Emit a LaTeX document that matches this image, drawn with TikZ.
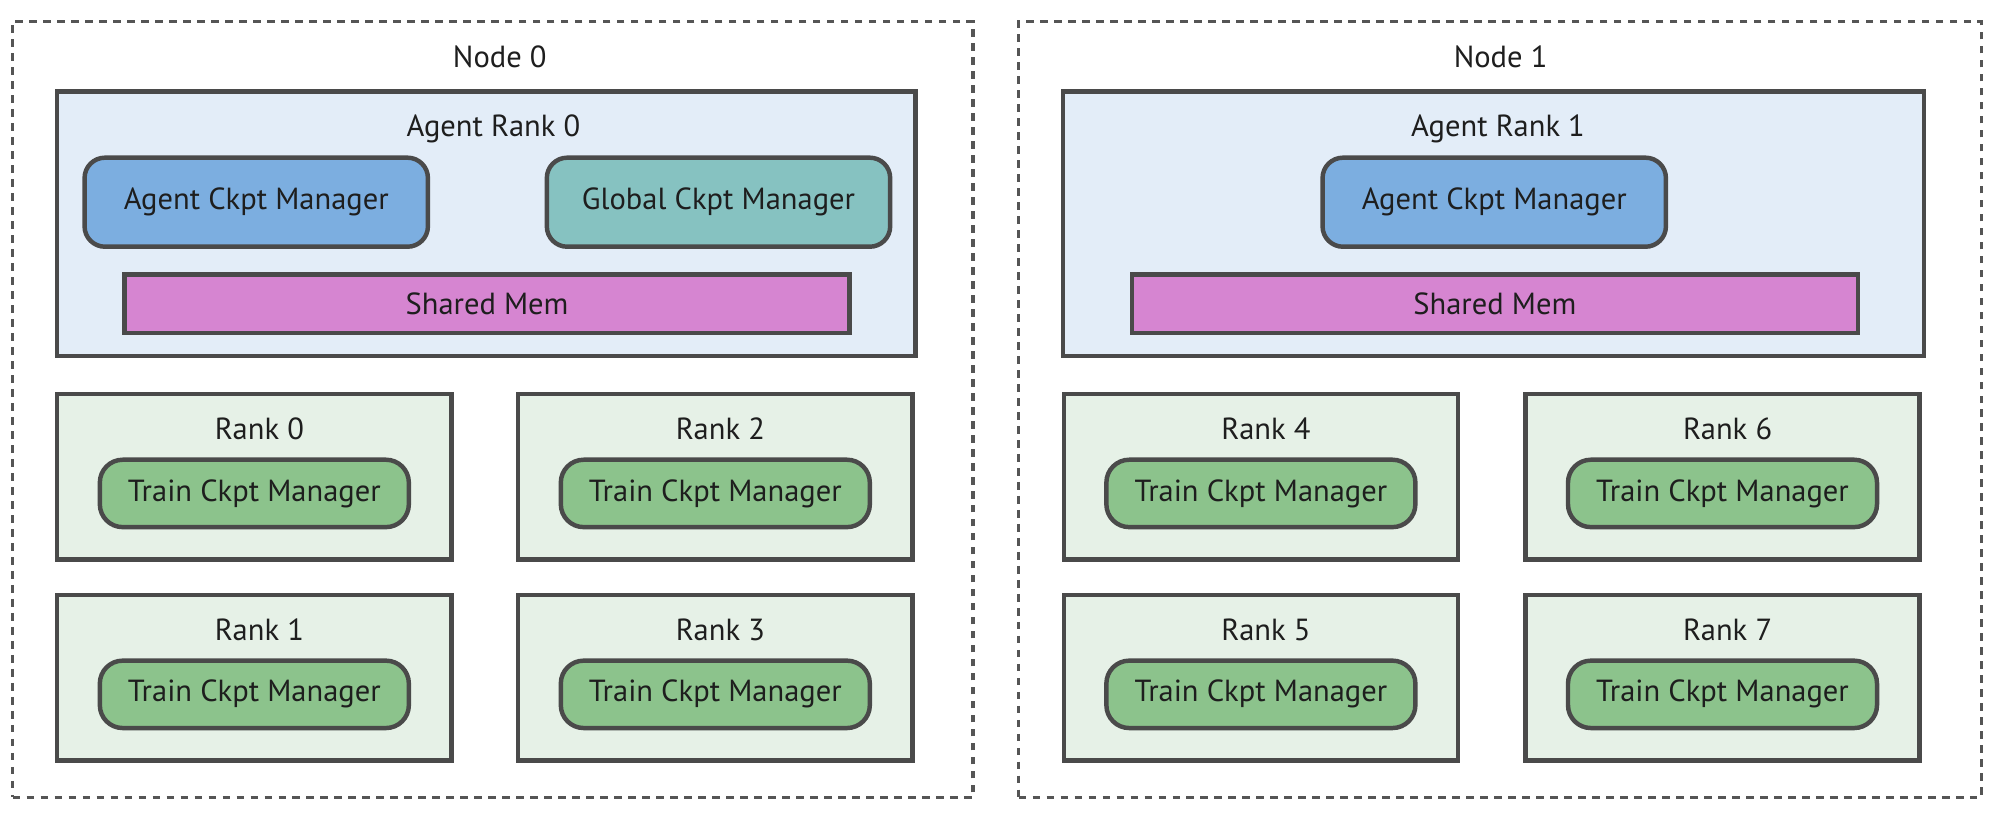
\documentclass[tikz,border=0pt]{standalone}
\usepackage{fontspec}
\setmainfont{PT Sans}
\definecolor{dashgray}{HTML}{555555}
\definecolor{strokegray}{HTML}{4A4A4A}
\definecolor{agentbg}{HTML}{E3EDF8}
\definecolor{agentblue}{HTML}{7CAEE0}
\definecolor{globalteal}{HTML}{86C2C1}
\definecolor{shmem}{HTML}{D685D1}
\definecolor{rankbg}{HTML}{E6F1E7}
\definecolor{traingreen}{HTML}{8CC38C}
\definecolor{txt}{HTML}{1E1E1E}
\tikzset{
  hostbox/.style={draw=dashgray, line width=2.8pt, dash pattern=on 6pt off 5pt, inner sep=0pt},
  agentbox/.style={draw=strokegray, fill=agentbg, line width=3.5pt, inner sep=0pt},
  rankbox/.style={draw=strokegray, fill=rankbg, line width=3.5pt, inner sep=0pt},
  mgrbox/.style={draw=strokegray, line width=3.5pt, rounded corners=16pt, inner sep=0pt,
    minimum width=270pt, minimum height=70pt, text=txt, font=\fontsize{24}{26}\selectfont},
  trainbox/.style={draw=strokegray, fill=traingreen, line width=3.5pt, rounded corners=18pt, inner sep=0pt,
    minimum width=243pt, minimum height=53pt, text=txt, font=\fontsize{24}{26}\selectfont},
  membox/.style={draw=strokegray, fill=shmem, line width=3.5pt, inner sep=0pt,
    minimum height=46pt, text=txt, font=\fontsize{24}{26}\selectfont},
  lbl/.style={text=txt, font=\fontsize{24}{26}\selectfont, inner sep=0pt}
}
\begin{document}
\begin{tikzpicture}[x=1pt,y=-1pt]
\useasboundingbox (0,0) rectangle (1568,640);
\fill[white] (0,0) rectangle (1568,640);

% host nodes
\node[hostbox, minimum width=755pt, minimum height=610pt] (n0) at (387.5,322) {};
\node[hostbox, minimum width=757pt, minimum height=610pt] (n1) at (1179.5,322) {};
\node[lbl] (n0l) at (393,45) {Node 0};
\node[lbl] (n1l) at (1180,45) {Node 1};

% agent rank boxes
\node[agentbox, minimum width=675pt, minimum height=208pt] (a0) at (382.5,176) {};
\node[agentbox, minimum width=677pt, minimum height=208pt] (a1) at (1174.5,176) {};
\node[lbl] (a0l) at (388,101) {Agent Rank 0};
\node[lbl] (a1l) at (1178,101) {Agent Rank 1};

\node[mgrbox, fill=agentblue] (acm0) at (201.5,159) {Agent Ckpt Manager};
\node[mgrbox, fill=globalteal] (gcm0) at (565,159) {Global Ckpt Manager};
\node[mgrbox, fill=agentblue] (acm1) at (1175,159) {Agent Ckpt Manager};

\node[membox, minimum width=570pt] (sm0) at (383,239) {Shared Mem};
\node[membox, minimum width=571pt] (sm1) at (1175.5,239) {Shared Mem};

% rank boxes
\foreach \nm/\cx/\cy/\t in {r0/200/375/0, r1/200/533/1, r2/562.5/375/2, r3/562.5/533/3,
                            r4/991.5/375/4, r5/991.5/533/5, r6/1354.5/375/6, r7/1354.5/533/7}{
  \node[rankbox, minimum width=310pt, minimum height=130pt] (\nm) at (\cx,\cy) {};
  \node[lbl] (\nm l) at (\cx+4,\cy-38) {Rank \t};
  \node[trainbox] (\nm t) at (\cx,\cy+13) {Train Ckpt Manager};
}
\end{tikzpicture}
\end{document}
